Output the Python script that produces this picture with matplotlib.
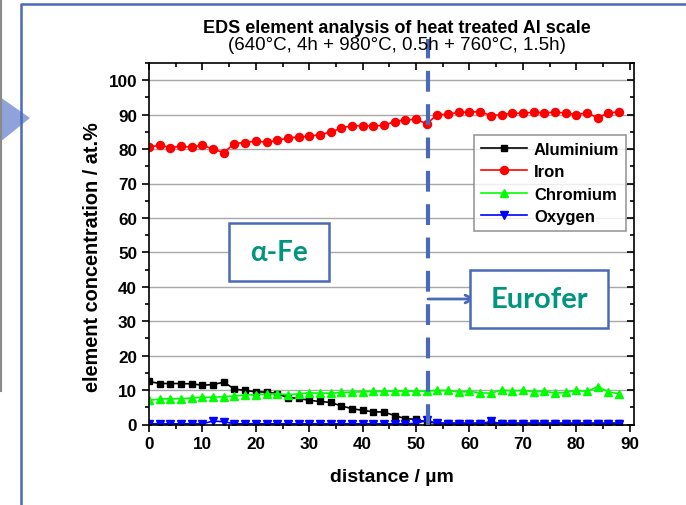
import matplotlib
matplotlib.use("Agg")
import matplotlib.pyplot as plt
from matplotlib.patches import Rectangle, Polygon
from matplotlib.lines import Line2D
from matplotlib.ticker import MultipleLocator

plt.rcParams['font.family'] = ['Liberation Sans', 'DejaVu Sans']

# distance along the line scan / um
distance = [0, 2, 4, 6, 8, 10, 12, 14, 16, 18, 20, 22, 24, 26, 28, 30, 32, 34, 36, 38,
            40, 42, 44, 46, 48, 50, 52, 54, 56, 58, 60, 62, 64, 66, 68, 70, 72, 74, 76,
            78, 80, 82, 84, 86, 88]

aluminium = [12.5, 11.9, 11.9, 11.9, 11.8, 11.4, 11.6, 12.3, 10.3, 9.9, 9.5, 9.4, 9.0,
             7.8, 7.6, 7.0, 6.7, 6.4, 5.4, 4.6, 4.1, 3.7, 3.6, 2.6, 1.7, 1.5, 0.7, 0.4,
             0.4, 0.4, 0.4, 0.4, 0.4, 0.4, 0.4, 0.4, 0.4, 0.4, 0.4, 0.4, 0.4, 0.4, 0.4,
             0.4, 0.4]
iron = [80.5, 81.2, 80.4, 80.8, 80.5, 81.2, 79.9, 79.0, 81.6, 81.9, 82.3, 82.0, 82.5,
        83.2, 83.5, 83.7, 84.2, 84.9, 86.1, 86.8, 86.7, 86.7, 86.9, 88.0, 88.5, 88.6,
        87.4, 90.0, 90.1, 90.7, 90.7, 90.9, 89.7, 90.0, 90.4, 90.4, 90.7, 90.5, 90.7,
        90.5, 90.0, 90.5, 89.1, 90.5, 90.8]
chromium = [7.0, 7.4, 7.5, 7.5, 7.7, 7.9, 7.9, 8.1, 8.3, 8.5, 8.7, 8.8, 8.9, 8.7, 8.9,
            9.2, 9.1, 9.1, 9.3, 9.4, 9.5, 9.6, 9.6, 9.7, 9.7, 9.6, 9.7, 9.9, 9.9, 9.4,
            9.6, 9.2, 9.1, 10.0, 9.8, 9.9, 9.5, 9.6, 9.2, 9.3, 9.9, 9.6, 11.0, 9.5, 8.9]
oxygen = [0.2, 0.2, 0.2, 0.2, 0.2, 0.2, 1.0, 0.8, 0.2, 0.2, 0.2, 0.2, 0.2, 0.2, 0.2,
          0.2, 0.2, 0.2, 0.2, 0.2, 0.2, 0.2, 0.2, 0.2, 0.2, 0.3, 1.2, 0.3, 0.2, 0.2,
          0.2, 0.2, 0.9, 0.2, 0.2, 0.2, 0.2, 0.2, 0.2, 0.2, 0.2, 0.2, 0.2, 0.2, 0.2]

boundary = 52.2
slide_blue = '#4A6AB8'
teal = '#00957D'

fig = plt.figure(figsize=(6.86, 5.06), dpi=100)
ax = fig.add_axes([149 / 686, 80.5 / 506, 485 / 686, 361.5 / 506])

# slide decorations (in figure pixels, y from top)
W, H = 686, 506
fig.add_artist(Line2D([1 / W, 1 / W], [1, 1 - 392 / H], color='#8A8A8A', lw=1.5))
fig.add_artist(Polygon([[0, 1 - 98 / H], [30 / W, 1 - 119 / H], [0, 1 - 143 / H]],
                       closed=True, transform=fig.transFigure, facecolor='#8FA3DA',
                       edgecolor='none'))
fig.add_artist(Line2D([20.5 / W, 20.5 / W, 1.01], [-0.01, 1 - 5 / H, 1 - 5 / H],
                      color=slide_blue, lw=1.8))

ax.yaxis.grid(True, color='#A8A8A8', lw=1)
ax.set_axisbelow(True)

ax.plot(distance, aluminium, color='black', marker='s', ms=4.8, lw=1.2, label='Aluminium')
ax.plot(distance, iron, color='#FF0000', marker='o', ms=5.8, lw=1.2, label='Iron')
ax.plot(distance, chromium, color='#00FF00', marker='^', ms=6.3, lw=1.2, label='Chromium')
ax.plot(distance, oxygen, color='#0000FF', marker='v', ms=6.3, lw=1.2, label='Oxygen')

ax.set_xlim(0, 90.8)
ax.set_ylim(0, 105)
ax.xaxis.set_major_locator(MultipleLocator(10))
ax.xaxis.set_minor_locator(MultipleLocator(5))
ax.yaxis.set_major_locator(MultipleLocator(10))
ax.yaxis.set_minor_locator(MultipleLocator(5))
ax.tick_params(which='both', top=True, right=True, width=1.2, labelsize=12.3)
ax.tick_params(which='major', length=5)
ax.tick_params(which='minor', length=3)
ax.tick_params(axis='both', which='both', direction='out')
for t in ax.get_xticklabels() + ax.get_yticklabels():
    t.set_fontweight('bold')
# mirrored ticks inward
for tick in ax.xaxis.get_major_ticks() + ax.xaxis.get_minor_ticks():
    tick.tick2line.set_marker(3)
for tick in ax.yaxis.get_major_ticks() + ax.yaxis.get_minor_ticks():
    tick.tick2line.set_marker(0)
for s in ax.spines.values():
    s.set_linewidth(1.2)

ax.set_xlabel('distance / µm', fontsize=14, fontweight='bold', labelpad=12)
ax.set_ylabel('element concentration / at.%', fontsize=14.3, fontweight='bold', labelpad=5)
ax.yaxis.label.set_y(0.466)

fig.text(396.5 / W, 1 - 33 / H, 'EDS element analysis of heat treated Al scale',
         ha='center', va='baseline', fontsize=13, fontweight='bold')
fig.text(396.5 / W, 1 - 49.5 / H, '(640°C, 4h + 980°C, 0.5h + 760°C, 1.5h)',
         ha='center', va='baseline', fontsize=13.5)

leg = ax.legend(loc='upper right', bbox_to_anchor=(626 / W, 1 - 136 / H),
                bbox_transform=fig.transFigure, fontsize=12, frameon=True,
                fancybox=False, edgecolor='#808080', handlelength=2.8,
                handletextpad=0.4, labelspacing=0.45, borderpad=0.4, borderaxespad=0)
leg.get_frame().set_linewidth(1.2)
for t in leg.get_texts():
    t.set_fontweight('bold')

# phase boundary and annotations
ax.plot([boundary, boundary], [0, 112], color=slide_blue, lw=3, ls=(0, (5, 3)),
        clip_on=False, zorder=5)
fig.add_artist(Rectangle((229 / W, 1 - 282 / H), 100 / W, 58 / H, transform=fig.transFigure,
                         facecolor='white', edgecolor=slide_blue, lw=1.8, zorder=6))
fig.text(279 / W, 1 - 253 / H, 'α-Fe', ha='center', va='center', fontsize=20,
         fontweight='bold', color=teal, family=['Lato', 'DejaVu Sans'], zorder=7)
fig.add_artist(Rectangle((470 / W, 1 - 329 / H), 138 / W, 58 / H, transform=fig.transFigure,
                         facecolor='white', edgecolor=slide_blue, lw=1.8, zorder=6))
fig.text(539 / W, 1 - 300 / H, 'Eurofer', ha='center', va='center', fontsize=21,
         fontweight='bold', color=teal, family=['Lato', 'DejaVu Sans'], zorder=7)
ax.annotate('', xy=(476 / W, 1 - 300 / H), xycoords='figure fraction',
            xytext=(428 / W, 1 - 300 / H), textcoords='figure fraction',
            arrowprops=dict(arrowstyle='->', color=slide_blue, lw=2,
                            mutation_scale=14, shrinkA=0, shrinkB=0), zorder=7)

fig.savefig('out.png', dpi=100)
